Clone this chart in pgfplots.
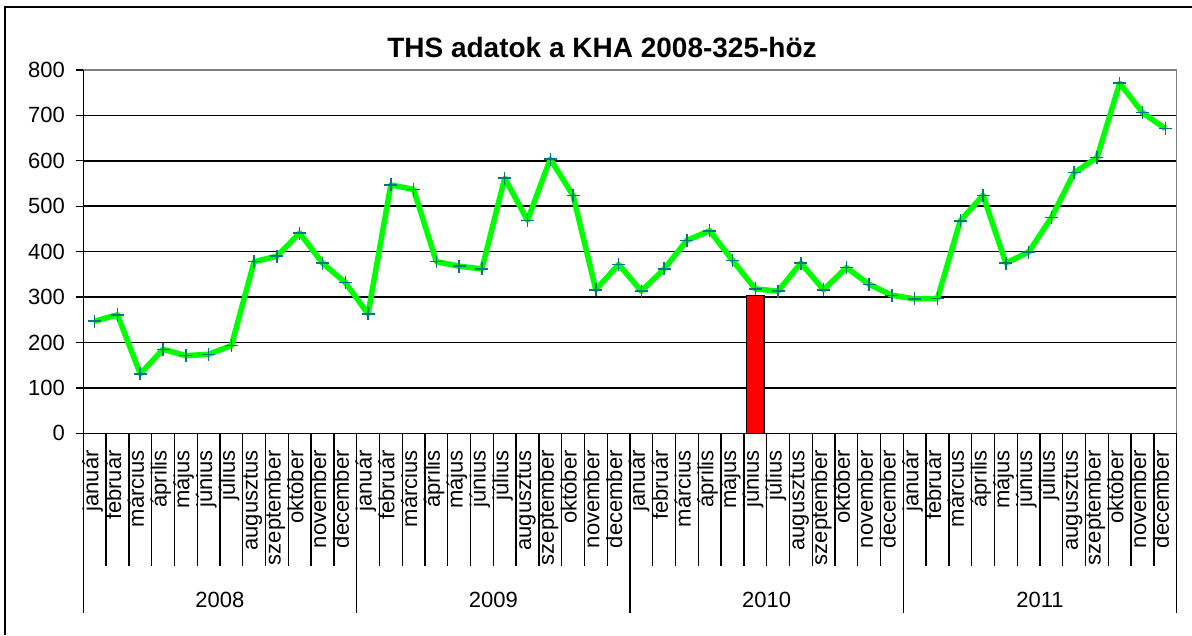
\documentclass[border=0pt]{standalone}
\usepackage{pgfplots}
\pgfplotsset{compat=1.18}
\usepackage{pgfplotstable}
\usepackage{fontspec}
\setmainfont{Liberation Sans}
\definecolor{lgreen}{RGB}{0,255,0}
\definecolor{mteal}{RGB}{0,120,128}
\definecolor{bgray}{RGB}{128,128,128}

\pgfplotstableread{
x y
0 247
1 261
2 131
3 185
4 171
5 174
6 193
7 378
8 390
9 441
10 375
11 332
12 263
13 547
14 537
15 378
16 368
17 362
18 562
19 469
20 604
21 524
22 316
23 372
24 313
25 362
26 425
27 446
28 381
29 318
30 313
31 375
32 316
33 365
34 328
35 304
36 296
37 297
38 468
39 524
40 375
41 399
42 475
43 574
44 607
45 771
46 706
47 671
}\thsdata

\newcommand{\tickfont}{\fontsize{22}{26}\selectfont}

\begin{document}
\begin{tikzpicture}
\useasboundingbox (0,0) rectangle (1192pt,-635pt);
\draw[line width=1.5pt] (5pt,-635pt) -- (5pt,-7pt) -- (1192pt,-7pt);
\begin{axis}[
  at={(83.3pt,-433.3pt)}, anchor=south west,
  scale only axis, width=1093.4pt, height=363.3pt,
  xmin=-0.5, xmax=47.5, ymin=0, ymax=800,
  clip=false,
  axis line style={bgray, line width=1.3pt},
  ytick={0,100,...,800},
  ymajorgrids, major grid style={black, line width=1.5pt},
  ytick pos=left, tick align=outside,
  major tick length=7pt,
  ytick style={black, line width=1.3pt},
  xtick={0,...,47},
  xtick style={draw=none},
  xticklabels={január,február,március,április,május,június,július,augusztus,szeptember,október,november,december,
                január,február,március,április,május,június,július,augusztus,szeptember,október,november,december,
                január,február,március,április,május,június,július,augusztus,szeptember,október,november,december,
                január,február,március,április,május,június,július,augusztus,szeptember,október,november,december},
  xticklabel style={font=\tickfont, yshift=-9.7pt, rotate=90, anchor=east, inner sep=0pt, text height=0.72em, text depth=0pt},
  yticklabel style={font=\tickfont, anchor=east, inner sep=0pt, xshift=-11.3pt},
  /pgf/number format/assume math mode=true,
  every axis title/.style={at={(0.4744,1)}, anchor=base, yshift=13pt, font=\bfseries\fontsize{28}{32}\selectfont},
  title={THS adatok a KHA 2008-325-höz},
]
\addplot[ybar, bar width=17.7pt, fill=red, draw=black, line width=1.3pt] coordinates {(29,303)};
\addplot[lgreen, line width=5.5pt, line join=round, mark=+, mark size=6.5pt,
  mark options={mteal, line width=1.5pt}] table[x=x, y=y] {\thsdata};
\draw[black, line width=1.5pt] (rel axis cs:0,1) -- (rel axis cs:0,0) -- (rel axis cs:1,0);
\pgfplotsinvokeforeach{-0.5,0.5,...,47.5}{\draw[black, line width=1.3pt] (axis cs:#1,0) -- ++(0pt,-132.7pt);}
\pgfplotsinvokeforeach{-0.5,11.5,23.5,35.5,47.5}{\draw[black, line width=1.3pt] (axis cs:#1,0) -- ++(0pt,-179.7pt);}
\node[font=\tickfont, anchor=center, inner sep=0pt, text depth=0pt, yshift=-166.7pt] at (axis cs:5.5,0) {2008};
\node[font=\tickfont, anchor=center, inner sep=0pt, text depth=0pt, yshift=-166.7pt] at (axis cs:17.5,0) {2009};
\node[font=\tickfont, anchor=center, inner sep=0pt, text depth=0pt, yshift=-166.7pt] at (axis cs:29.5,0) {2010};
\node[font=\tickfont, anchor=center, inner sep=0pt, text depth=0pt, yshift=-166.7pt] at (axis cs:41.5,0) {2011};
\end{axis}
\end{tikzpicture}
\end{document}
